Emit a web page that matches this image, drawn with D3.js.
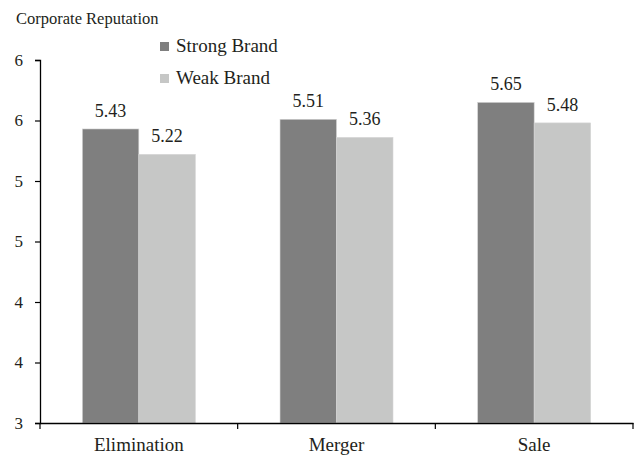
<!DOCTYPE html>
<html>
<head>
<meta charset="utf-8">
<script src="https://cdn.jsdelivr.net/npm/d3@7"></script>
<style>
  body { margin: 0; background: #fff; }
</style>
</head>
<body>
<svg id="chart"></svg>
<script>
// dados do gráfico
const categorias = ["Elimination", "Merger", "Sale"];
const series = ["Strong Brand", "Weak Brand"];
const strongBrand = [5.43, 5.51, 5.65];
const weakBrand = [5.22, 5.36, 5.48];
const yTicks = [3, 3.5, 4, 4.5, 5, 5.5, 6];

const cores = { "Strong Brand": "#7f7f7f", "Weak Brand": "#c6c7c6" };
const fonte = "'Liberation Serif', 'Times New Roman', Times, serif";
const corTexto = "#231f20";

const width = 638, height = 456;
const margin = { top: 60, right: 5, bottom: 33, left: 40 };
const innerW = width - margin.left - margin.right;
const innerH = height - margin.top - margin.bottom;

const data = categorias.map((c, i) => ({
  categoria: c,
  valores: [
    { serie: series[0], valor: strongBrand[i] },
    { serie: series[1], valor: weakBrand[i] }
  ]
}));

const svg = d3.select("#chart")
  .attr("width", width)
  .attr("height", height)
  .attr("viewBox", `0 0 ${width} ${height}`);

const g = svg.append("g")
  .attr("transform", `translate(${margin.left},${margin.top})`);

const x0 = d3.scaleBand().domain(categorias).range([0, innerW]).padding(0);
const x1 = d3.scaleBand().domain(series).range([0, x0.bandwidth()]).paddingInner(0).paddingOuter(0.75);
const y = d3.scaleLinear().domain([3, 6]).range([innerH, 0]);

// barras
const grupos = g.selectAll(".grupo")
  .data(data)
  .enter()
  .append("g")
  .attr("class", "grupo")
  .attr("transform", d => `translate(${x0(d.categoria)},0)`);

grupos.selectAll("rect")
  .data(d => d.valores)
  .enter()
  .append("rect")
  .attr("x", d => x1(d.serie))
  .attr("y", d => y(d.valor))
  .attr("width", x1.bandwidth())
  .attr("height", d => innerH - y(d.valor))
  .attr("fill", d => cores[d.serie])
  .attr("stroke", "#d4d4d4")
  .attr("stroke-width", 0.6);

// rótulos de valor
grupos.selectAll(".rotulo")
  .data(d => d.valores)
  .enter()
  .append("text")
  .attr("class", "rotulo")
  .attr("x", d => x1(d.serie) + x1.bandwidth() / 2)
  .attr("y", d => y(d.valor) - 12)
  .attr("text-anchor", "middle")
  .style("font-family", fonte)
  .style("font-size", "18px")
  .style("fill", corTexto)
  .text(d => d.valor.toFixed(2));

// eixo Y
const yAxis = d3.axisLeft(y)
  .tickValues(yTicks)
  .tickFormat(d3.format(".0f"))
  .tickSize(5)
  .tickPadding(12);

const yAxisGroup = g.append("g")
  .attr("class", "y-axis")
  .call(yAxis);
yAxisGroup.select(".domain").attr("stroke", "#000").attr("stroke-width", 1.3);
yAxisGroup.selectAll(".tick line").attr("stroke", "#000").attr("stroke-width", 1.2);
yAxisGroup.selectAll(".tick text")
  .style("font-family", fonte)
  .style("font-size", "17px")
  .style("fill", corTexto);

// eixo X
const xAxisGroup = g.append("g")
  .attr("class", "x-axis")
  .attr("transform", `translate(0,${innerH})`)
  .call(d3.axisBottom(x0).tickSize(0).tickSizeOuter(0).tickPadding(15));
xAxisGroup.select(".domain").attr("stroke", "#000").attr("stroke-width", 1.3);
xAxisGroup.selectAll(".tick text")
  .style("font-family", fonte)
  .style("font-size", "19px")
  .style("fill", corTexto);

// marcas entre categorias
const fronteiras = [0].concat(categorias.map(c => x0(c) + x0.bandwidth()));
xAxisGroup.selectAll(".divisor")
  .data(fronteiras)
  .enter()
  .append("line")
  .attr("class", "divisor")
  .attr("x1", d => d)
  .attr("x2", d => d)
  .attr("y1", 0)
  .attr("y2", 6)
  .attr("stroke", "#000")
  .attr("stroke-width", 1.2);

// título do eixo
svg.append("text")
  .attr("x", 16)
  .attr("y", 24)
  .style("font-family", fonte)
  .style("font-size", "16.5px")
  .style("fill", corTexto)
  .text("Corporate Reputation");

// legenda
const legenda = svg.append("g")
  .attr("transform", "translate(160,42)");

const itens = legenda.selectAll(".item")
  .data(series)
  .enter()
  .append("g")
  .attr("class", "item")
  .attr("transform", (d, i) => `translate(0,${i * 32})`);

itens.append("rect")
  .attr("width", 9)
  .attr("height", 9)
  .attr("fill", d => cores[d]);

itens.append("text")
  .attr("x", 16)
  .attr("y", 10)
  .style("font-family", fonte)
  .style("font-size", "19px")
  .style("fill", corTexto)
  .text(d => d);
</script>
</body>
</html>
